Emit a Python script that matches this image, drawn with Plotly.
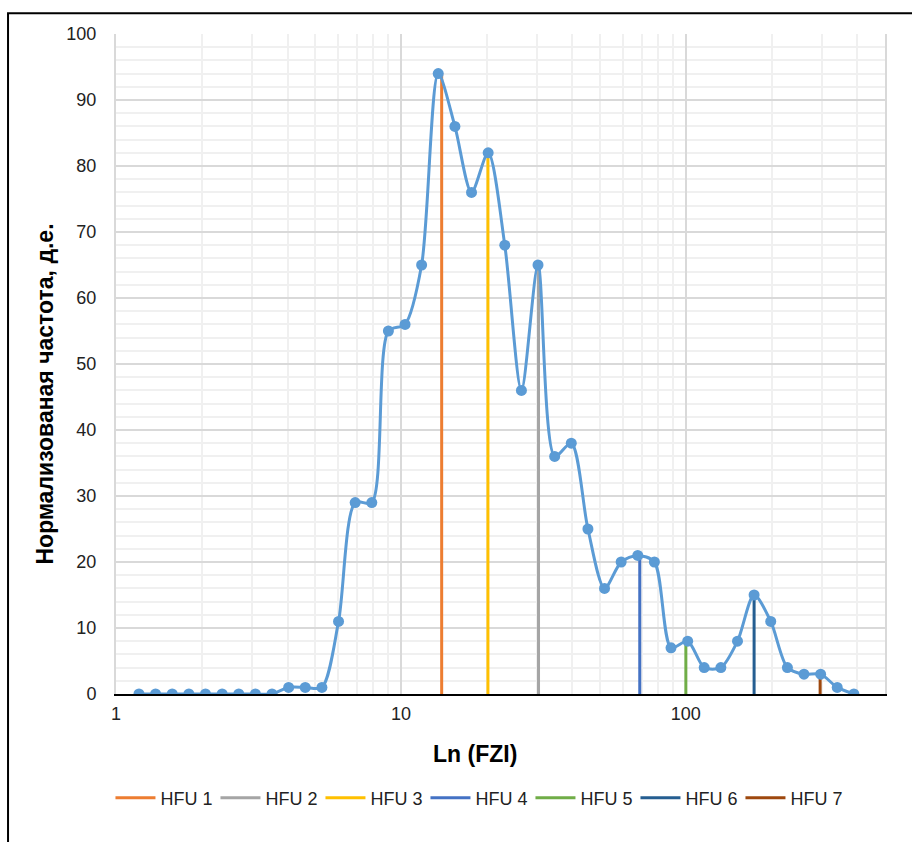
import plotly.graph_objects as go

# FZI bin centres (log-spaced) and normalised frequency
fzi = [1.204, 1.377, 1.575, 1.802, 2.061, 2.358, 2.697, 3.085, 3.528, 4.036,
       4.616, 5.280, 6.040, 6.909, 7.902, 9.038, 10.34, 11.82, 13.52, 15.47,
       17.69, 20.24, 23.15, 26.48, 30.28, 34.64, 39.62, 45.32, 51.83, 59.29,
       67.81, 77.56, 88.71, 101.5, 116.0, 132.7, 151.8, 173.6, 198.6, 227.2,
       259.8, 297.2, 339.9, 388.8]
freq = [0, 0, 0, 0, 0, 0, 0, 0, 0, 1,
        1, 1, 11, 29, 29, 55, 56, 65, 94, 86,
        76, 82, 68, 46, 65, 36, 38, 25, 16, 20,
        21, 20, 7, 8, 4, 4, 8, 15, 11, 4,
        3, 3, 1, 0]

# Hydraulic flow unit markers: position and height
hfu_names = ["HFU 1", "HFU 2", "HFU 3", "HFU 4", "HFU 5", "HFU 6", "HFU 7"]
hfu_x = [13.9, 30.4, 20.2, 68.9, 100.0, 173.6, 296.0]
hfu_y = [94, 65, 82, 21, 8, 15, 3]
hfu_colors = ["#ED7D31", "#A5A5A5", "#FFC000", "#4472C4", "#70AD47", "#255E91", "#9E480E"]

FONT = "Liberation Sans, Arial, sans-serif"

fig = go.Figure()

for name, xv, yv, col in zip(hfu_names, hfu_x, hfu_y, hfu_colors):
    fig.add_trace(go.Scatter(
        x=[xv, xv], y=[0, yv], mode="lines", name=name,
        line=dict(color=col, width=3), hoverinfo="skip",
    ))

fig.add_trace(go.Scatter(
    x=fzi, y=freq, mode="lines+markers", showlegend=False,
    line=dict(color="#5B9BD5", width=3, shape="spline", smoothing=0.8),
    marker=dict(color="#5B9BD5", size=11),
))

fig.update_layout(
    width=912, height=842,
    margin=dict(l=116, r=27, t=34, b=148),
    plot_bgcolor="white", paper_bgcolor="white",
    font=dict(family=FONT, size=18, color="#222222"),
    showlegend=True,
    legend=dict(
        orientation="h", x=0.4707, xanchor="center", y=-0.1576, yanchor="middle",
        font=dict(family=FONT, size=18, color="#222222"),
        itemwidth=40, entrywidth=50, entrywidthmode="pixels", traceorder="normal",
    ),
    annotations=[
        dict(text="<b>Ln (FZI)</b>", xref="paper", yref="paper",
             x=0.4668, y=-0.0909, xanchor="center", yanchor="middle",
             showarrow=False, font=dict(family=FONT, size=23, color="#000000")),
        dict(text="<b>Нормализованая частота, д.е.</b>", xref="paper", yref="paper",
             x=-0.0923, y=0.4538, xanchor="center", yanchor="middle", textangle=-90,
             showarrow=False, font=dict(family=FONT, size=23, color="#000000")),
    ],
    shapes=[
        dict(type="rect", xref="paper", yref="paper",
             x0=-0.1404, x1=1.2, y0=-0.5, y1=1.0316,
             line=dict(color="#000000", width=2), fillcolor="rgba(0,0,0,0)",
             layer="above"),
    ],
)

fig.update_xaxes(
    type="log", range=[0, 2.69897], dtick=1,
    showgrid=True, gridcolor="#D9D9D9", gridwidth=1.5,
    minor=dict(dtick="D1", showgrid=True, gridcolor="#F0F0F0", gridwidth=1.5),
    showline=True, linecolor="#000000", linewidth=2,
    ticks="", ticklabelstandoff=2,
    tickfont=dict(family=FONT, size=18, color="#222222"),
    zeroline=False,
)
fig.update_yaxes(
    range=[0, 100], dtick=10,
    showgrid=True, gridcolor="#D9D9D9", gridwidth=1.5,
    minor=dict(dtick=2, showgrid=True, gridcolor="#F0F0F0", gridwidth=1.5),
    showline=True, mirror=True, linecolor="#D9D9D9", linewidth=2,
    ticks="", ticklabelstandoff=14,
    tickfont=dict(family=FONT, size=18, color="#222222"),
    zeroline=False,
)

fig.write_html("out.html")
